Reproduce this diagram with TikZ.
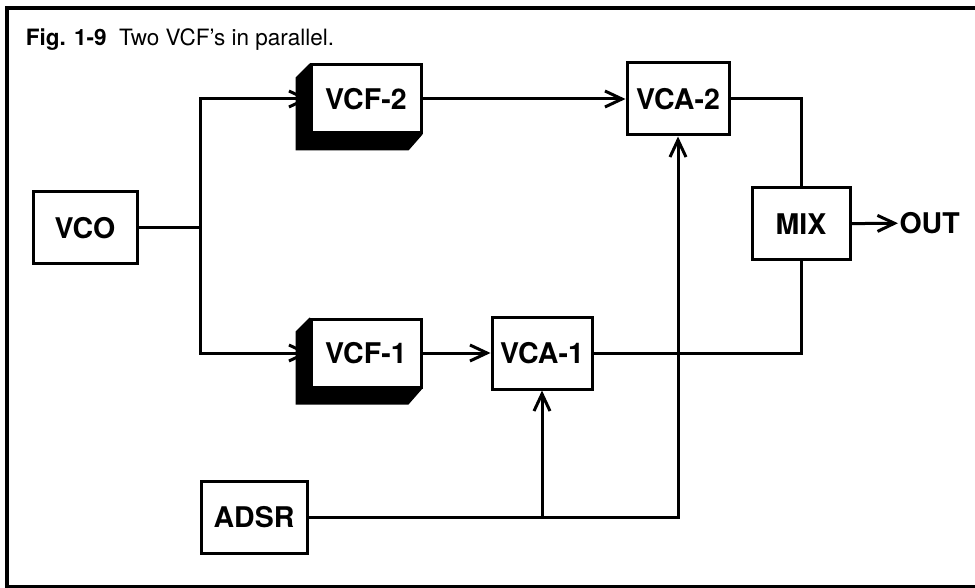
\documentclass[tikz,border=0pt]{standalone}
\usepackage{fontspec}
\setmainfont{TeX Gyre Heros}
\usetikzlibrary{arrows.meta,backgrounds,calc}

\newcommand{\vcfshade}[1]{%
\fill (#1.north west) -- ++(-14,14) -- ($(#1.south west)+(-14,16)$)
-- ($(#1.south east)+(-14,16)$) -- (#1.south east) -- cycle;}

\begin{document}
\begin{tikzpicture}[x=1pt,y=-1pt,line width=3pt,
	>={Straight Barb[length=17pt,width=16pt,line width=3pt]},
	blk/.style={draw,fill=white,minimum width=104pt,minimum height=72pt,
		inner sep=0pt,font=\fontsize{28.5}{32}\selectfont\bfseries},
	vcf/.style={blk,minimum width=110pt,minimum height=68pt}]

\useasboundingbox (0,0) rectangle (975,588);
\draw [line width=3.6pt] (7,8) rectangle (1000,587);

\node [anchor=west,font=\fontsize{22.5}{26}\selectfont] (cap) at (21,40)
	{\textbf{Fig. 1-9}\ \ Two VCF’s in parallel.};

\node [blk] (vco) at (85,228) {VCO};
\node [vcf] (vcf2) at (366,99) {VCF-2};
\node [vcf] (vcf1) at (366,353) {VCF-1};
\node [blk,minimum width=102pt] (vca2) at (678,99) {VCA-2};
\node [blk,minimum width=100pt] (vca1) at (542,353) {VCA-1};
\node [blk,minimum width=98pt] (mix) at (801,224) {MIX};
\node [blk,minimum width=106pt] (adsr) at (254,517) {ADSR};
\node [anchor=west,inner sep=0pt,font=\fontsize{28.5}{32}\selectfont\bfseries] (out) at (898,223) {OUT};

\begin{scope}[on background layer]
	\vcfshade{vcf2}
	\vcfshade{vcf1}
\end{scope}

\coordinate (split) at (200,228);
\draw (vco) -- (split);
\draw [->] (split) |- (vcf2);
\draw [->] (split) |- (vcf1);
\draw [->] (vcf2) -- (vca2);
\draw [->] (vcf1) -- (vca1);
\draw (vca2.east) -| (mix.north);
\draw (vca1.east) -| (mix.south);
\draw [->] (mix) -- (out);
\draw [->] (adsr.east) -| (vca2.south);
\draw [->] (adsr.east -| vca1.south) -- (vca1.south);

\end{tikzpicture}
\end{document}
